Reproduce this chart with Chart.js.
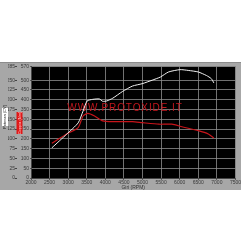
<!DOCTYPE html>
<html>
<head>
<meta charset="utf-8">
<script src="https://cdn.jsdelivr.net/npm/chart.js@4"></script>
<style>
  html, body { margin: 0; padding: 0; background: #fff; }
  #panel {
    position: absolute; left: 0; top: 62px; width: 241px; height: 128px;
    background: #a7a7a7; border-top: 1px solid #8c8c8c; box-sizing: border-box;
  }
</style>
</head>
<body>
<div id="panel"><canvas id="dyno"></canvas></div>
<script>
// power curve (CV) - white line
let rpmPower = [2560, 2960, 3270, 3400, 3510, 3660, 3840, 3930, 4040, 4200, 4460, 4730, 4990, 5260, 5480, 5700, 6010, 6230, 6500, 6720, 6850, 6920];
let power = [77, 112, 141, 171, 197, 201, 202, 196, 197, 204, 221, 235, 241, 250, 258, 271, 277, 275, 271, 262, 254, 243];

// torque curve (Nm) - red line
let rpmTorque = [2560, 2960, 3270, 3400, 3530, 3710, 3930, 4200, 4730, 4990, 5440, 5790, 6060, 6500, 6770, 6920];
let torque = [178, 225, 258, 317, 330, 317, 292, 288, 288, 283, 275, 275, 262, 242, 225, 205];

let rpmTicks = [2000, 2500, 3000, 3500, 4000, 4500, 5000, 5500, 6000, 6500, 7000, 7500];

const tickFont = { family: 'Liberation Sans', size: 5, lineHeight: 1 };
const plain = { useGrouping: false };

function toPoints(xs, ys) {
  return xs.map((x, i) => ({ x: x, y: ys[i] }));
}

const plotBack = {
  id: 'plotBack',
  beforeDraw(chart) {
    let a = chart.chartArea;
    let ctx = chart.ctx;
    ctx.save();
    ctx.fillStyle = '#000';
    ctx.fillRect(a.left, a.top, a.right - a.left, a.bottom - a.top);
    ctx.restore();
  },
  beforeDatasetsDraw(chart) {
    let ctx = chart.ctx;
    ctx.save();
    ctx.fillStyle = '#c3161c';
    ctx.font = '10px "Liberation Sans"';
    ctx.letterSpacing = '0.9px';
    ctx.textAlign = 'center';
    ctx.textBaseline = 'middle';
    ctx.fillText('WWW.PROTOXIDE.IT', 125, 45);
    ctx.restore();
  },
  afterDraw(chart) {
    // axis title boxes, rotated
    let ctx = chart.ctx;
    ctx.save();
    ctx.font = '4px "Liberation Sans"';
    ctx.textAlign = 'center';
    ctx.textBaseline = 'middle';
    ctx.translate(5, 54);
    ctx.rotate(-Math.PI / 2);
    ctx.fillStyle = '#fff';
    ctx.fillRect(-9, -3, 18, 6);
    ctx.fillStyle = '#222';
    ctx.fillText('Potenza (CV)', 0, 0);
    ctx.restore();
    ctx.save();
    ctx.font = '4px "Liberation Sans"';
    ctx.textAlign = 'center';
    ctx.textBaseline = 'middle';
    ctx.translate(19.5, 60);
    ctx.rotate(-Math.PI / 2);
    ctx.fillStyle = '#e01818';
    ctx.fillRect(-11, -3, 22, 6);
    ctx.fillStyle = '#ffd0d0';
    ctx.fillText('Coppia (Nm)', 0, 0);
    ctx.restore();
  }
};

new Chart(document.getElementById('dyno'), {
  type: 'line',
  data: {
    datasets: [
      {
        label: 'Potenza',
        data: toPoints(rpmPower, power),
        yAxisID: 'yP',
        borderColor: '#f2f2f2',
        borderWidth: 1,
        pointRadius: 0,
        tension: 0.2
      },
      {
        label: 'Coppia',
        data: toPoints(rpmTorque, torque),
        yAxisID: 'yT',
        borderColor: '#c8141a',
        borderWidth: 1.2,
        pointRadius: 0,
        tension: 0.2
      }
    ]
  },
  options: {
    responsive: true,
    maintainAspectRatio: false,
    animation: false,
    layout: { padding: { left: 8, top: 2, right: 3, bottom: 0 } },
    plugins: { legend: { display: false }, tooltip: { enabled: false } },
    scales: {
      x: {
        type: 'linear',
        min: 2000,
        max: 7500,
        afterBuildTicks: (s) => { s.ticks = rpmTicks.map(v => ({ value: v })); },
        afterFit: (s) => { s.height = 12; },
        grid: { color: '#8e8e8e', lineWidth: 0.8, tickLength: 2, tickColor: '#444' },
        border: { color: '#444' },
        ticks: { font: tickFont, color: '#3a3a3a', padding: 0, maxRotation: 0, autoSkip: false, format: plain },
        title: { display: true, text: 'Giri (RPM)', font: tickFont, color: '#333', padding: 0 }
      },
      yT: {
        position: 'left',
        weight: 0,
        min: 0,
        max: 570,
        afterFit: (s) => { s.width = 14; },
        grid: { color: '#8e8e8e', lineWidth: 0.8, tickLength: 1, tickColor: '#444' },
        border: { color: '#444' },
        ticks: { stepSize: 50, font: tickFont, color: '#3a3a3a', padding: 1, autoSkip: false, format: plain }
      },
      yP: {
        position: 'left',
        weight: 1,
        min: 0,
        max: 285,
        afterFit: (s) => { s.width = 9; },
        grid: { drawOnChartArea: false, tickLength: 2, tickColor: '#444' },
        border: { display: false },
        ticks: { stepSize: 25, font: tickFont, color: '#3a3a3a', padding: 0, autoSkip: false, format: plain }
      }
    }
  },
  plugins: [plotBack]
});
</script>
</body>
</html>
